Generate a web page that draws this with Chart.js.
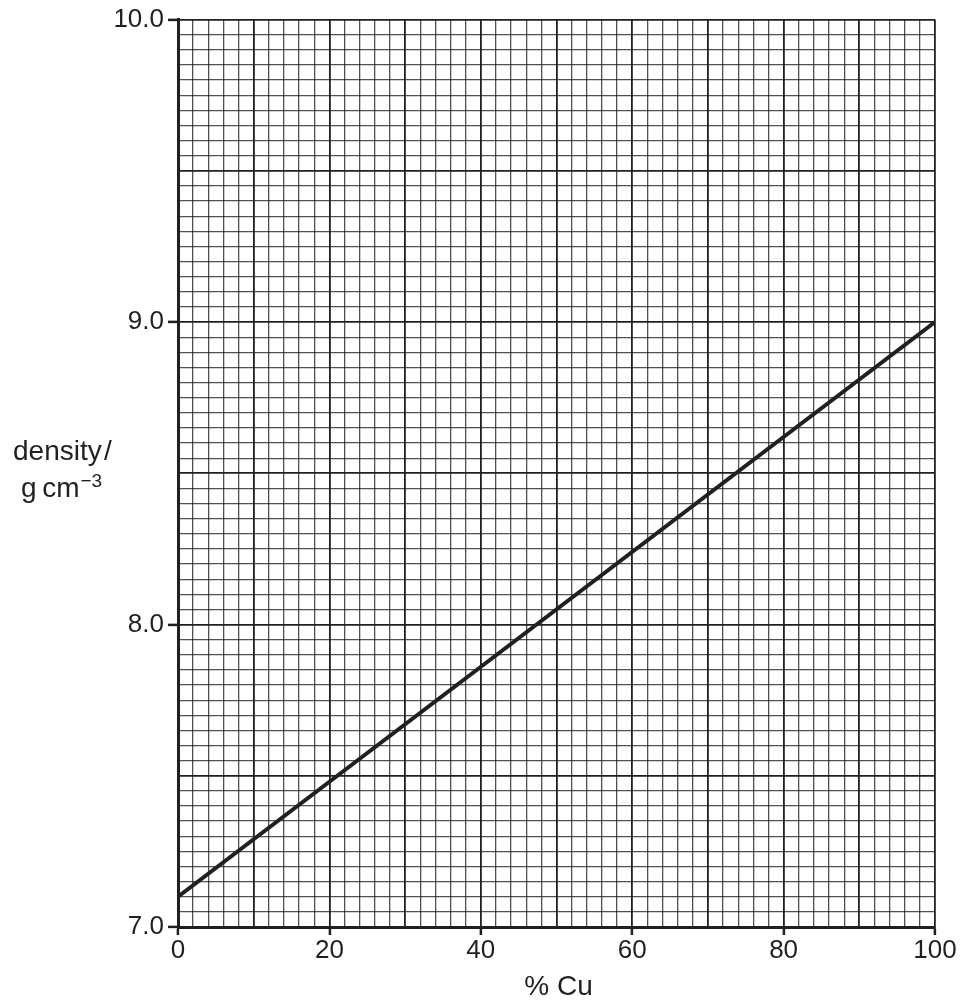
<!DOCTYPE html>
<html>
<head>
<meta charset="utf-8">
<script src="https://cdn.jsdelivr.net/npm/chart.js@4/dist/chart.umd.min.js"></script>
<style>
  html, body { margin: 0; padding: 0; background: #fff; }
  canvas { display: block; }
</style>
</head>
<body>
<canvas id="c" width="963" height="1003"></canvas>
<script>
// Data
const cuPercent = [0, 100];
const density = [7.1, 9.0];
const xTickLabels = [0, 20, 40, 60, 80, 100];
const yTickLabels = [7.0, 8.0, 9.0, 10.0];
const xAxisTitle = '% Cu';
const yAxisTitleLine1 = 'density\u200A/';
const yAxisTitleUnit = 'g\u2009cm';
const yAxisTitleSup = '\u22123';

const INK = '#231f20';
const FONT = '"Liberation Sans", Arial, Helvetica, sans-serif';
const isNear = (a, b) => Math.abs(a - b) < 1e-6;
const isXLabel = v => xTickLabels.some(t => isNear(t, v));
const isYLabel = v => yTickLabels.some(t => isNear(t, v));
const isXMajor = v => isNear(v / 10, Math.round(v / 10));
const isYMajor = v => isNear(v * 2, Math.round(v * 2));

const titlesPlugin = {
  id: 'titles',
  afterDraw(chart) {
    const ctx = chart.ctx;
    const area = chart.chartArea;
    ctx.save();
    ctx.fillStyle = INK;
    ctx.textBaseline = 'alphabetic';
    // x-axis title
    ctx.font = '28px ' + FONT;
    ctx.textAlign = 'center';
    ctx.fillText(xAxisTitle, (area.left + area.right) / 2 + 2, 995);
    // y-axis title (horizontal, two lines)
    ctx.textAlign = 'left';
    ctx.fillText(yAxisTitleLine1, 13, 460);
    ctx.fillText(yAxisTitleUnit, 21, 497);
    const w = ctx.measureText(yAxisTitleUnit).width;
    ctx.font = '19px ' + FONT;
    ctx.fillText(yAxisTitleSup, 21 + w + 1, 487);
    ctx.restore();
  }
};

new Chart(document.getElementById('c'), {
  type: 'scatter',
  data: {
    datasets: [{
      data: cuPercent.map((x, i) => ({ x: x, y: density[i] })),
      showLine: true,
      borderColor: INK,
      borderWidth: 4,
      pointRadius: 0,
      tension: 0
    }]
  },
  options: {
    responsive: false,
    animation: false,
    events: [],
    layout: { padding: { top: 18, right: 28, left: 0, bottom: 0 } },
    plugins: { legend: { display: false }, tooltip: { enabled: false } },
    scales: {
      x: {
        type: 'linear', min: 0, max: 100,
        afterFit: s => { s.height = 76; },
        ticks: {
          stepSize: 2, autoSkip: false, maxRotation: 0, padding: 0,
          color: INK,
          font: { family: FONT, size: 26 },
          callback: v => isXLabel(v) ? String(Math.round(v)) : ''
        },
        grid: {
          drawTicks: true, tickLength: 8,
          color: c => isXMajor(c.tick.value) ? INK : 'rgba(35,31,32,0.78)',
          lineWidth: c => isXMajor(c.tick.value) ? 1.8 : 1.3,
          tickColor: c => isXLabel(c.tick.value) ? INK : 'rgba(0,0,0,0)',
          tickWidth: 2.5
        },
        border: { color: INK, width: 3 }
      },
      y: {
        type: 'linear', min: 7, max: 10,
        afterFit: s => { s.width = 178; },
        ticks: {
          stepSize: 0.05, autoSkip: false, padding: 4,
          color: INK,
          font: { family: FONT, size: 26 },
          callback: v => isYLabel(v) ? Number(v).toFixed(1) : ''
        },
        grid: {
          drawTicks: true, tickLength: 10,
          color: c => isYMajor(c.tick.value) ? INK : 'rgba(35,31,32,0.78)',
          lineWidth: c => isYMajor(c.tick.value) ? 1.8 : 1.3,
          tickColor: c => isYLabel(c.tick.value) ? INK : 'rgba(0,0,0,0)',
          tickWidth: 2.5
        },
        border: { color: INK, width: 3 }
      }
    }
  },
  plugins: [titlesPlugin]
});
</script>
</body>
</html>
